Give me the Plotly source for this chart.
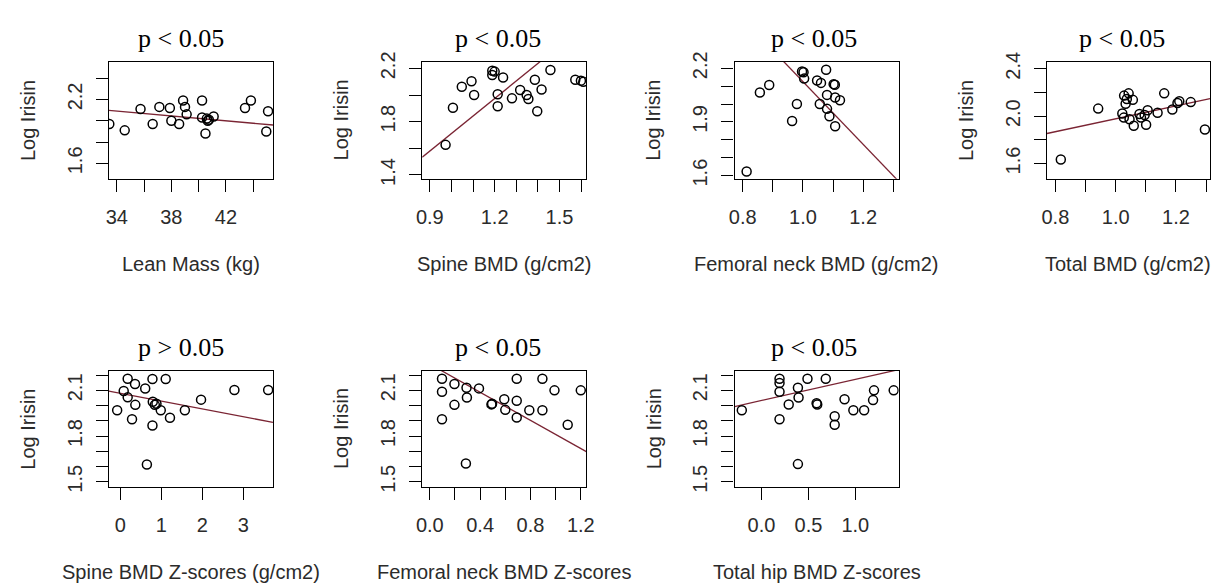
import plotly.graph_objects as go

# The page body has an 8px margin, so the figure is sized to fit the
# 1221x588 window exactly and all reference pixel positions are offset by 8.
OFF = 8
W, H = 1221 - OFF, 588 - OFF

# ---------------- data ----------------
# Panel 1: Lean mass
lean_mass = [33.45, 34.58, 35.74, 36.63, 37.12, 37.89, 38.0, 38.57, 38.86, 39.0, 39.12,
             40.25, 40.25, 40.5, 40.6, 40.67, 40.75, 41.1, 43.4, 43.83, 44.96, 45.09]
lean_irisin = [1.97, 1.91, 2.11, 1.97, 2.13, 2.12, 2.0, 1.97, 2.19, 2.13, 2.06,
               2.19, 2.03, 1.88, 2.02, 2.0, 2.01, 2.04, 2.12, 2.19, 1.90, 2.09]
lean_fit_x = [33.42, 45.45]
lean_fit_y = [2.098, 1.96]

# Panel 2: Spine BMD
spine_bmd = [0.973, 1.007, 1.048, 1.093, 1.105, 1.189, 1.189, 1.200, 1.239, 1.214, 1.214,
             1.280, 1.318, 1.348, 1.356, 1.386, 1.397, 1.417, 1.458, 1.573, 1.599, 1.610]
spine_irisin = [1.626, 1.904, 2.062, 2.103, 2.000, 2.183, 2.151, 2.176, 2.132, 2.006, 1.916,
                1.975, 2.038, 2.000, 1.970, 2.115, 1.878, 2.042, 2.188, 2.115, 2.108, 2.100]
spine_fit_x = [0.865, 1.624]
spine_fit_y = [1.533, 2.532]

# Panel 3: Femoral neck BMD
fneck_bmd = [0.813, 0.857, 0.888, 0.964, 0.980, 0.997, 1.002, 1.004, 1.047, 1.060, 1.056,
             1.077, 1.080, 1.080, 1.088, 1.102, 1.106, 1.107, 1.123, 1.107]
fneck_irisin = [1.623, 2.064, 2.106, 1.905, 2.000, 2.182, 2.178, 2.142, 2.131, 2.118, 2.000,
                2.191, 2.051, 1.973, 1.931, 2.111, 2.108, 2.036, 2.021, 1.876]
fneck_fit_x = [0.773, 1.318]
fneck_fit_y = [2.523, 1.568]

# Panel 4: Total BMD
total_bmd = [0.818, 0.942, 1.022, 1.027, 1.028, 1.043, 1.037, 1.057, 1.033, 1.046, 1.060, 1.079,
             1.084, 1.096, 1.101, 1.106, 1.139, 1.161, 1.188, 1.205, 1.211, 1.249, 1.296]
total_irisin = [1.635, 2.064, 2.023, 1.988, 2.174, 2.193, 2.146, 2.138, 2.105, 1.974, 1.919, 2.018,
                1.988, 2.010, 1.928, 2.051, 2.029, 2.193, 2.056, 2.111, 2.127, 2.119, 1.887]
total_fit_x = [0.772, 1.313]
total_fit_y = [1.854, 2.148]

# Panel 5: Spine BMD Z-scores
spinez = [-0.08, 0.08, 0.177, 0.177, 0.283, 0.356, 0.363, 0.605, 0.646, 0.782, 0.782,
          0.79, 0.84, 0.88, 0.985, 1.106, 1.21, 1.574, 1.969, 2.784, 3.608]
spinez_irisin = [1.969, 2.096, 2.176, 2.054, 1.910, 2.142, 2.005, 2.112, 1.614, 2.174, 1.870,
                 2.025, 2.005, 2.012, 1.969, 2.174, 1.920, 1.969, 2.039, 2.102, 2.102]
spinez_fit_x = [-0.282, 3.726]
spinez_fit_y = [2.095, 1.89]

# Panel 6: Femoral neck BMD Z-scores
fneckz = [0.097, 0.097, 0.097, 0.196, 0.196, 0.287, 0.292, 0.295, 0.391, 0.49, 0.495,
          0.592, 0.6, 0.691, 0.691, 0.691, 0.791, 0.895, 0.895, 0.991, 1.096, 1.2]
fneckz_irisin = [2.176, 2.091, 1.91, 2.142, 2.005, 1.62, 2.117, 2.053, 2.113, 2.008, 2.012,
                 2.042, 1.972, 2.176, 2.032, 1.922, 1.969, 2.176, 1.969, 2.1, 1.874, 2.1]
fneckz_fit_x = [-0.06, 1.244]
fneckz_fit_y = [2.300, 1.698]

# Panel 7: Total hip BMD Z-scores
hipz = [-0.21, 0.192, 0.192, 0.192, 0.192, 0.29, 0.388, 0.395, 0.388, 0.49, 0.587,
        0.594, 0.685, 0.78, 0.78, 0.885, 0.979, 1.094, 1.189, 1.199, 1.409]
hipz_irisin = [1.969, 2.176, 2.148, 2.091, 1.91, 2.007, 2.117, 2.053, 1.616, 2.176, 2.015,
               2.007, 2.176, 1.93, 1.874, 2.042, 1.969, 1.969, 2.036, 2.1, 2.1]
hipz_fit_x = [-0.287, 1.462]
hipz_fit_y = [1.994, 2.236]

# Titles / labels
p_titles = ["p < 0.05", "p < 0.05", "p < 0.05", "p < 0.05", "p > 0.05", "p < 0.05", "p < 0.05"]
x_labels = ["Lean Mass (kg)", "Spine BMD (g/cm2)", "Femoral neck BMD (g/cm2)", "Total BMD (g/cm2)",
            "Spine BMD Z-scores (g/cm2)", "Femoral neck BMD Z-scores", "Total hip BMD Z-scores"]
y_label = "Log Irisin"

# Tick values & labels
x_ticks = [
    ([34, 36, 38, 40, 42, 44], ["34", "", "38", "", "42", ""]),
    ([0.9, 1.0, 1.1, 1.2, 1.3, 1.4, 1.5, 1.6], ["0.9", "", "", "1.2", "", "", "1.5", ""]),
    ([0.8, 0.9, 1.0, 1.1, 1.2, 1.3], ["0.8", "", "1.0", "", "1.2", ""]),
    ([0.8, 0.9, 1.0, 1.1, 1.2, 1.3], ["0.8", "", "1.0", "", "1.2", ""]),
    ([0, 1, 2, 3], ["0", "1", "2", "3"]),
    ([0.0, 0.2, 0.4, 0.6, 0.8, 1.0, 1.2], ["0.0", "", "0.4", "", "0.8", "", "1.2"]),
    ([0.0, 0.5, 1.0], ["0.0", "0.5", "1.0"]),
]
y_ticks = [
    ([1.6, 1.8, 2.0, 2.2, 2.4], ["1.6", "", "", "2.2", ""]),
    ([1.4, 1.6, 1.8, 2.0, 2.2], ["1.4", "", "1.8", "", "2.2"]),
    ([1.6, 1.7, 1.8, 1.9, 2.0, 2.1, 2.2], ["1.6", "", "", "1.9", "", "", "2.2"]),
    ([1.6, 1.8, 2.0, 2.2, 2.4], ["1.6", "", "2.0", "", "2.4"]),
    ([1.5, 1.6, 1.7, 1.8, 1.9, 2.0, 2.1, 2.2], ["1.5", "", "", "1.8", "", "", "2.1", ""]),
    ([1.5, 1.6, 1.7, 1.8, 1.9, 2.0, 2.1, 2.2], ["1.5", "", "", "1.8", "", "", "2.1", ""]),
    ([1.5, 1.6, 1.7, 1.8, 1.9, 2.0, 2.1, 2.2], ["1.5", "", "", "1.8", "", "", "2.1", ""]),
]
x_ranges = [[33.42, 45.45], [0.865, 1.624], [0.773, 1.318], [0.772, 1.313],
            [-0.282, 3.726], [-0.06, 1.244], [-0.287, 1.462]]
y_ranges = [[1.455, 2.555], [1.371, 2.251], [1.582, 2.237], [1.471, 2.461],
            [1.466, 2.229], [1.466, 2.229], [1.466, 2.229]]

series = [
    (lean_mass, lean_irisin, lean_fit_x, lean_fit_y),
    (spine_bmd, spine_irisin, spine_fit_x, spine_fit_y),
    (fneck_bmd, fneck_irisin, fneck_fit_x, fneck_fit_y),
    (total_bmd, total_irisin, total_fit_x, total_fit_y),
    (spinez, spinez_irisin, spinez_fit_x, spinez_fit_y),
    (fneckz, fneckz_irisin, fneckz_fit_x, fneckz_fit_y),
    (hipz, hipz_irisin, hipz_fit_x, hipz_fit_y),
]

# ---------------- layout geometry (reference pixels) ----------------
col_left = [104, 421, 737, 1053]
box_w = 166
row_top = [53, 372]
box_h = [121, 120]
boxes = [(0, 0), (1, 0), (2, 0), (3, 0), (0, 1), (1, 1), (2, 1)]
title_dx = [-10, -6, -3, -7]


def px(x):
    return (x - OFF) / W


def py(y):
    return 1 - (y - OFF) / H


SANS = "Liberation Sans, Arial, sans-serif"
SERIF = "Liberation Serif, Times New Roman, serif"
TXT = "#2b2b2b"
LINE_COL = "#7a2433"

fig = go.Figure()
annotations = []
layout = dict(
    width=W, height=H, autosize=False,
    margin=dict(l=0, r=0, t=0, b=0, pad=0),
    paper_bgcolor="white", plot_bgcolor="white",
    showlegend=False,
)

for i, (xs, ys, fx, fy) in enumerate(series):
    n = "" if i == 0 else str(i + 1)
    c, r = boxes[i]
    l = col_left[c]
    rgt = min(l + box_w, 1218)
    t = row_top[r]
    b = t + box_h[r]

    fig.add_trace(go.Scatter(
        x=fx, y=fy, mode="lines", xaxis="x" + n, yaxis="y" + n,
        line=dict(color=LINE_COL, width=1.3), hoverinfo="skip"))
    fig.add_trace(go.Scatter(
        x=xs, y=ys, mode="markers", xaxis="x" + n, yaxis="y" + n,
        marker=dict(symbol="circle-open", size=9, color="black", line=dict(width=1.5))))

    common = dict(showline=True, mirror=True, linecolor="black", linewidth=1.4,
                  ticks="outside", ticklen=12, tickwidth=1.3, tickcolor="black",
                  showgrid=False, zeroline=False,
                  tickfont=dict(family=SANS, size=20, color=TXT))
    layout["xaxis" + n] = dict(
        domain=[px(l), px(rgt)], anchor="y" + n, range=x_ranges[i],
        tickmode="array", tickvals=x_ticks[i][0], ticktext=x_ticks[i][1],
        ticklabelstandoff=8, **common)
    layout["yaxis" + n] = dict(
        domain=[py(b), py(t)], anchor="x" + n, range=y_ranges[i],
        tickmode="array", tickvals=y_ticks[i][0], ticktext=y_ticks[i][1],
        tickangle=-90, ticklabelstandoff=6, **common)

    cx = (l + rgt) / 2
    cy = (t + b) / 2
    annotations.append(dict(text=p_titles[i], x=px(cx + title_dx[c]), y=py(t - 24),
                            xref="paper", yref="paper", showarrow=False,
                            xanchor="center", yanchor="middle",
                            font=dict(family=SERIF, size=26, color="black")))
    annotations.append(dict(text=x_labels[i], x=px(cx), y=py(b + 88),
                            xref="paper", yref="paper", showarrow=False,
                            xanchor="center", yanchor="middle",
                            font=dict(family=SANS, size=20, color=TXT)))
    annotations.append(dict(text=y_label, x=px(l - 82), y=py(cy),
                            xref="paper", yref="paper", showarrow=False, textangle=-90,
                            xanchor="center", yanchor="middle",
                            font=dict(family=SANS, size=20, color=TXT)))

layout["annotations"] = annotations
fig.update_layout(**layout)
fig.write_html("out.html")
